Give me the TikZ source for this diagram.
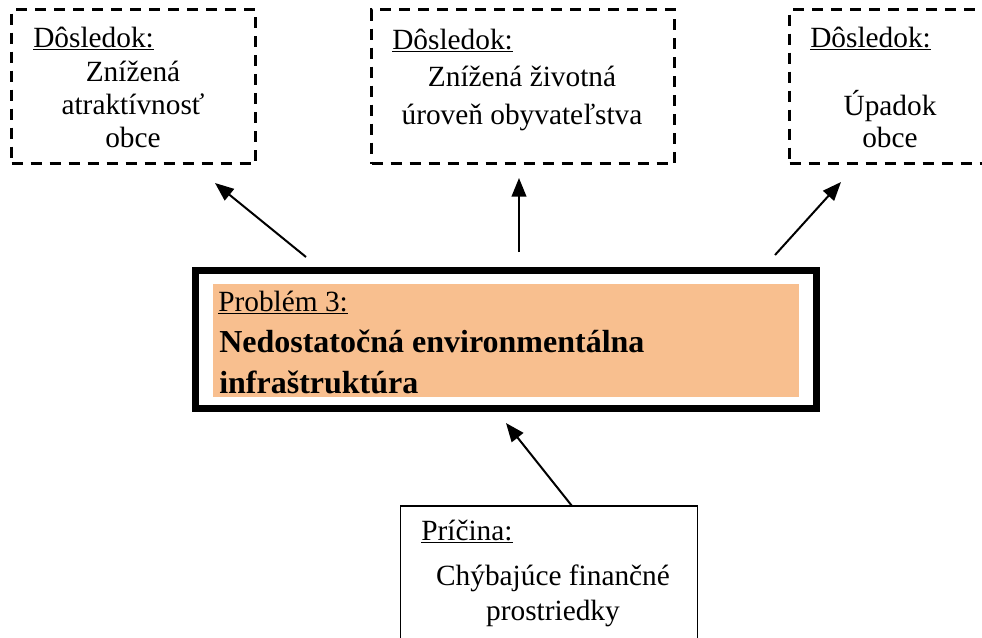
\documentclass[tikz,border=0pt]{standalone}
\usepackage{fontspec}
\setmainfont{Liberation Serif}
\usetikzlibrary{arrows.meta}
\definecolor{probfill}{HTML}{F8BF8F}
\def\pxu{*0.75pt}
\begin{document}
\begin{tikzpicture}[x=0.75pt,y=-0.75pt,
  conbox/.style={draw, rectangle, inner sep=0pt, dash pattern=on 8.25pt off 6pt, line width=2.25pt},
  causebox/.style={draw, rectangle, inner sep=0pt, line width=1.1pt},
  probbox/.style={draw, rectangle, inner sep=0pt, line width=5.25pt},
  probfillbox/.style={fill=probfill, rectangle, inner sep=0pt},
  head/.style={anchor=base west, inner sep=0pt, font=\fontsize{22pt}{24.75pt}\selectfont},
  body/.style={anchor=base, inner sep=0pt, align=center},
  arr/.style={line width=1.5pt, -{Triangle[length=14pt,width=11pt]}}]
\useasboundingbox (0,0) rectangle (982,637);
\clip (0,0) rectangle (982,637);

% consequence boxes
\node[conbox, minimum width=244\pxu, minimum height=154\pxu] (c1) at (133.5,86.5) {};
\node[conbox, minimum width=303\pxu, minimum height=154\pxu] (c2) at (523,86.5) {};
\node[conbox, minimum width=205.5\pxu, minimum height=154\pxu] (c3) at (892.25,86.5) {};

\node[head] (c1h) at (33,47) {\underline{Dôsledok:}};
\node[body, font=\fontsize{22pt}{24.75pt}\selectfont] (c1t) at (133,147) {Znížená\\atraktívnosť\\obce};

\node[head] (c2h) at (392,49) {\underline{Dôsledok:}};
\node[body, font=\fontsize{22pt}{28.5pt}\selectfont] (c2t) at (522,124) {Znížená životná\\úroveň obyvateľstva};

\node[head] (c3h) at (810,47) {\underline{Dôsledok:}};
\node[body, font=\fontsize{22pt}{24pt}\selectfont] (c3t) at (890,147) {Úpadok\\obce};

% problem box
\node[probbox, minimum width=621\pxu, minimum height=138\pxu] (prob) at (506,339.5) {};
\node[probfillbox, minimum width=586\pxu, minimum height=113\pxu] (probin) at (506,340.5) {};
\node[head] (probh) at (218,311) {\underline{Problém 3:}};
\node[anchor=base west, inner sep=0pt, align=left, font=\fontsize{24pt}{30.75pt}\selectfont\bfseries] (probt) at (219,393) {Nedostatočná environmentálna\\infraštruktúra};

% cause box
\node[causebox, minimum width=297\pxu, minimum height=154\pxu] (cause) at (549,583) {};
\node[head] (causeh) at (421,540) {\underline{Príčina:}};
\node[body, font=\fontsize{22pt}{26.25pt}\selectfont] (causet) at (553,620) {Chýbajúce finančné\\prostriedky};

% arrow end points
\coordinate (a1s) at (306,257); \coordinate (a1e) at (215,183);
\coordinate (a2s) at (519,252); \coordinate (a2e) at (519,178);
\coordinate (a3s) at (775,255); \coordinate (a3e) at (841,182);
\coordinate (a4s) at (572,506); \coordinate (a4e) at (506,423);

\draw[arr] (a1s) -- (a1e);
\draw[arr] (a2s) -- (a2e);
\draw[arr] (a3s) -- (a3e);
\draw[arr] (a4s) -- (a4e);
\end{tikzpicture}
\end{document}
